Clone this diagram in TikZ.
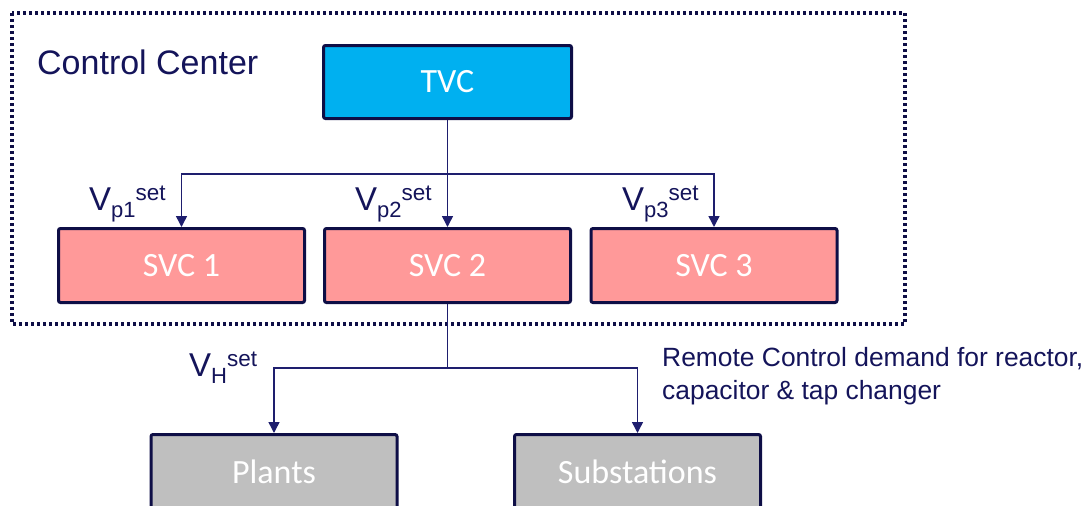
\documentclass[tikz,border=0pt]{standalone}
\usepackage{fontspec}
\setmainfont{Liberation Sans}
\newfontfamily\boxfont{Carlito}
\usetikzlibrary{arrows.meta}
\definecolor{navy}{RGB}{14,14,70}
\definecolor{linec}{RGB}{30,30,110}
\definecolor{txtc}{RGB}{20,20,90}
\definecolor{tvcfill}{RGB}{0,176,240}
\definecolor{svcfill}{RGB}{255,153,153}
\definecolor{grayfill}{RGB}{191,191,191}
\newcommand{\vlab}[2]{\fontsize{33}{33}\selectfont V\raisebox{-7pt}{\fontsize{22}{22}\selectfont #1}\raisebox{10pt}{\fontsize{22.5}{22.5}\selectfont #2}}
\begin{document}
\begin{tikzpicture}[x=1pt,y=-1pt,
  blk/.style={draw=navy, line width=3pt, rounded corners=2pt, minimum width=246pt, minimum height=74pt, inner sep=0pt, text=white, font=\boxfont\fontsize{34}{34}\selectfont},
  conn/.style={draw=linec, line width=1.5pt},
  arr/.style={conn, -{Triangle[length=11pt,width=11pt]}},
  lab/.style={text=txtc, inner sep=0pt, anchor=base west}]
\path[use as bounding box] (0,0) rectangle (1088,506);
\draw[navy, line width=3.2pt, dash pattern=on 3pt off 3pt] (12,13) rectangle (905,324);
\node[lab, font=\fontsize{34}{34}\selectfont] (cc) at (37,74) {Control Center};
\node[blk, fill=tvcfill, minimum width=248pt, minimum height=73pt] (tvc) at (447.5,82) {TVC};
\node[blk, fill=svcfill] (svc1) at (181.5,265.5) {SVC 1};
\node[blk, fill=svcfill] (svc2) at (447.5,265.5) {SVC 2};
\node[blk, fill=svcfill] (svc3) at (714,265.5) {SVC 3};
\node[blk, fill=grayfill] (plants) at (274,471.5) {Plants};
\node[blk, fill=grayfill] (subs) at (637.5,471.5) {Substations};
\coordinate (j1) at (447.5,174);
\coordinate (j2) at (447.5,368);
\draw[conn] (tvc.south) -- (j1);
\draw[arr] (j1) -| (svc1.north);
\draw[arr] (j1) -- (svc2.north);
\draw[arr] (j1) -| (svc3.north);
\draw[conn] (svc2.south) -- (j2);
\draw[arr] (j2) -| (plants.north);
\draw[arr] (j2) -| (subs.north);
\node[lab] (v1) at (89,210) {\vlab{p1}{set}};
\node[lab] (v2) at (355,210) {\vlab{p2}{set}};
\node[lab] (v3) at (622,210) {\vlab{p3}{set}};
\node[lab] (vh) at (189,376) {\vlab{H}{set}};
\node[lab, font=\fontsize{26.4}{33}\selectfont, align=left] (rc) at (662,399) {Remote Control demand for reactor,\\capacitor \& tap changer};
\end{tikzpicture}
\end{document}
